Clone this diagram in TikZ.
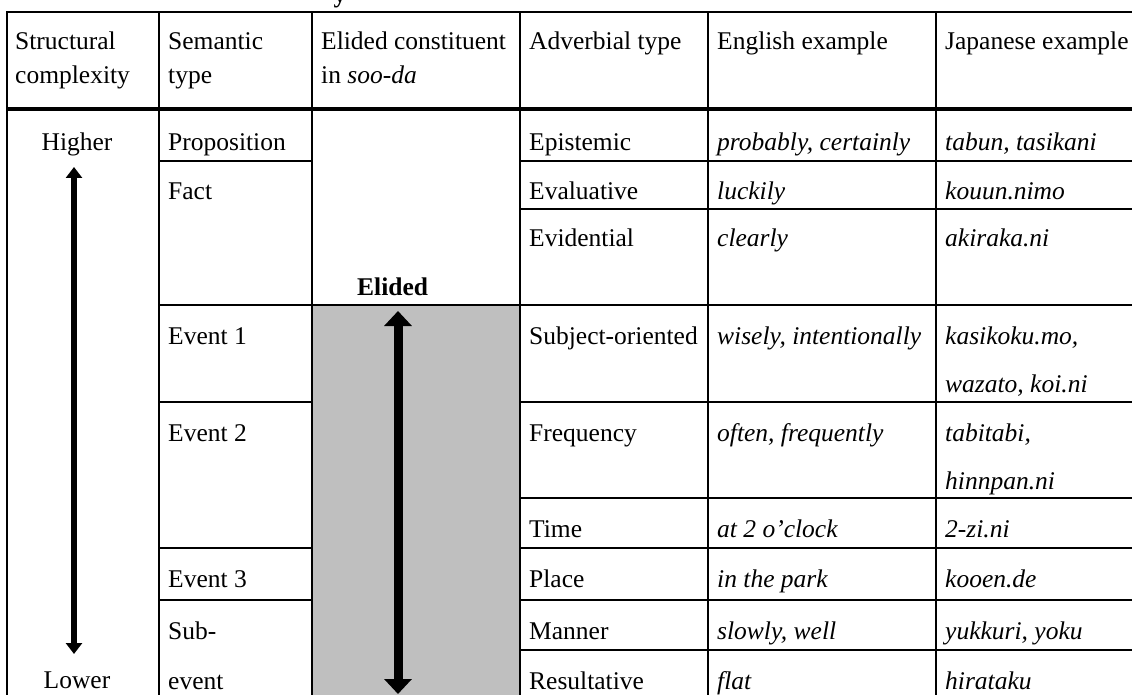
\documentclass[tikz,border=0pt]{standalone}
\usepackage{fontspec}
\setmainfont{Liberation Serif}
\usetikzlibrary{arrows.meta}
\definecolor{cellgray}{HTML}{BFBFBF}
\begin{document}
\begin{tikzpicture}[x=1pt,y=-1pt,
  every node/.style={inner sep=0pt, font=\fontsize{25.5}{30}\selectfont},
  cell/.style={anchor=base west},
  mid/.style={anchor=base},
  ex/.style={anchor=base west, font=\fontsize{25.5}{30}\selectfont\itshape},
  rule/.style={line width=2pt, line cap=rect},
  thickrule/.style={line width=4.5pt},
  smallarrow/.style={line width=5.5pt, {Triangle[width=16pt,length=11pt]}-{Triangle[width=16pt,length=11pt]}},
  bigarrow/.style={line width=9pt, {Triangle[width=27pt,length=15pt]}-{Triangle[width=27pt,length=15pt]}}]
\useasboundingbox (0,0) rectangle (1132,695);
\fill[white] (0,0) rectangle (1132,695);
% caption fragment
\begin{scope}
\clip (0,0) rectangle (1132,695);
\node[anchor=base, font=\fontsize{25.5}{30}\selectfont\bfseries] (capfrag) at (340,3) {y};
\end{scope}
% grey cell
\fill[cellgray] (312,305) rectangle (520,695);
% vertical lines
\foreach \x in {7,159,312,520,708,936} \draw[rule] (\x,12) -- (\x,696);
% horizontal lines
\draw[rule] (7,12) -- (1133,12);
\draw[thickrule] (6,109) -- (1133,109);
\draw[rule] (159,161) -- (312,161);
\draw[rule] (520,161) -- (1133,161);
\draw[rule] (520,209) -- (1133,209);
\draw[rule] (159,305) -- (1133,305);
\draw[rule] (159,402) -- (312,402);
\draw[rule] (520,402) -- (1133,402);
\draw[rule] (520,498) -- (1133,498);
\draw[rule] (159,548) -- (312,548);
\draw[rule] (520,548) -- (1133,548);
\draw[rule] (159,600) -- (312,600);
\draw[rule] (520,600) -- (1133,600);
\draw[rule] (520,650) -- (1133,650);
% header
\node[cell] (h1a) at (15,50) {Structural};
\node[cell] (h1b) at (15,84) {complexity};
\node[cell] (h2a) at (168,50) {Semantic};
\node[cell] (h2b) at (168,84) {type};
\node[cell] (h3a) at (321,50) {Elided constituent};
\node[cell] (h3b) at (321,84) {in \textit{soo-da}};
\node[cell] (h4) at (529,50) {Adverbial type};
\node[cell] (h5) at (717,50) {English example};
\node[cell] (h6) at (945,50) {Japanese example};
% column 1
\node[mid] (higher) at (77,151) {Higher};
\node[mid] (lower) at (77,688) {Lower};
\coordinate (a1top) at (74,167);
\coordinate (a1bot) at (74,654);
\draw[smallarrow] (a1bot) -- (a1top);
% column 2
\node[cell] (s1) at (168,151) {Proposition};
\node[cell] (s2) at (168,200) {Fact};
\node[cell] (s3) at (168,344) {Event 1};
\node[cell] (s4) at (168,441) {Event 2};
\node[cell] (s5) at (168,587) {Event 3};
\node[cell] (s6a) at (168,639) {Sub-};
\node[cell] (s6b) at (168,689) {event};
% column 3
\node[cell, font=\fontsize{25.5}{30}\selectfont\bfseries] (elided) at (357,295) {Elided};
\coordinate (a3top) at (398,311);
\coordinate (a3bot) at (398,694);
\draw[bigarrow] (a3bot) -- (a3top);
% column 4
\node[cell] (t1) at (529,151) {Epistemic};
\node[cell] (t2) at (529,200) {Evaluative};
\node[cell] (t3) at (529,247) {Evidential};
\node[cell] (t4) at (529,344) {Subject-oriented};
\node[cell] (t5) at (529,441) {Frequency};
\node[cell] (t6) at (529,537) {Time};
\node[cell] (t7) at (529,587) {Place};
\node[cell] (t8) at (529,639) {Manner};
\node[cell] (t9) at (529,689) {Resultative};
% column 5
\node[ex] (e1) at (717,151) {probably, certainly};
\node[ex] (e2) at (717,200) {luckily};
\node[ex] (e3) at (717,247) {clearly};
\node[ex] (e4) at (717,344) {wisely, intentionally};
\node[ex] (e5) at (717,441) {often, frequently};
\node[ex] (e6) at (717,537) {at 2 o’clock};
\node[ex] (e7) at (717,587) {in the park};
\node[ex] (e8) at (717,639) {slowly, well};
\node[ex] (e9) at (717,689) {flat};
% column 6
\node[ex] (j1) at (945,151) {tabun, tasikani};
\node[ex] (j2) at (945,200) {kouun.nimo};
\node[ex] (j3) at (945,247) {akiraka.ni};
\node[ex] (j4a) at (945,344) {kasikoku.mo,};
\node[ex] (j4b) at (945,392) {wazato, koi.ni};
\node[ex] (j5a) at (945,441) {tabitabi,};
\node[ex] (j5b) at (945,489) {hinnpan.ni};
\node[ex] (j6) at (945,537) {2-zi.ni};
\node[ex] (j7) at (945,587) {kooen.de};
\node[ex] (j8) at (945,639) {yukkuri, yoku};
\node[ex] (j9) at (945,689) {hirataku};
\end{tikzpicture}
\end{document}
